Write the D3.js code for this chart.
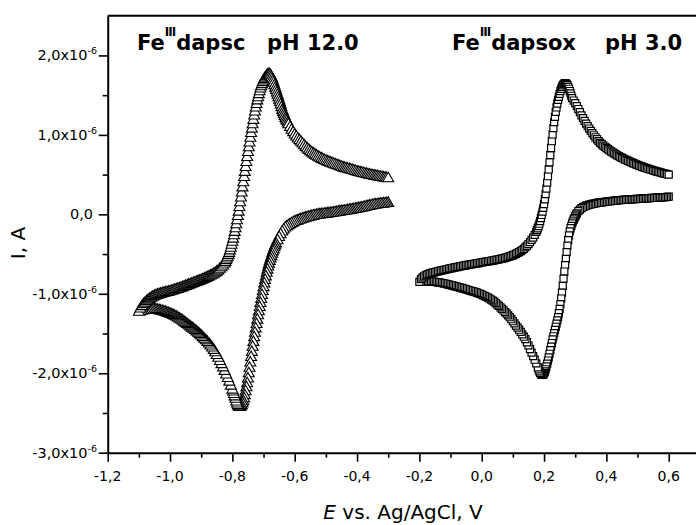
<!DOCTYPE html>
<html>
<head>
<meta charset="utf-8">
<script src="https://cdn.jsdelivr.net/npm/d3@7"></script>
<style>
  html, body { margin: 0; padding: 0; background: #fff; }
  svg { display: block; }
  text { font-family: "DejaVu Sans", Lato, sans-serif; fill: #000; }
</style>
</head>
<body>
<svg id="chart" width="696" height="525"></svg>
<script>
// Cyclic voltammograms: potential E (V vs. Ag/AgCl), current I (µA).
// Each scan starts on the cathodic branch and returns on the anodic branch.

// Fe(III)dapsc, pH 12.0 — cathodic sweep from -0.30 V to the switching potential
const dapscCathodic = [
[-0.300,0.160],[-0.305,0.158],[-0.310,0.155],[-0.315,0.153],[-0.320,0.150],[-0.325,0.148],[-0.330,0.145],[-0.335,0.143],[-0.340,0.140],[-0.345,0.137],[-0.350,0.133],[-0.355,0.129],[-0.360,0.125],[-0.365,0.120],[-0.370,0.115],[-0.375,0.110],[-0.380,0.105],[-0.385,0.101],[-0.390,0.097],[-0.395,0.094],[-0.400,0.090],[-0.405,0.086],[-0.410,0.082],[-0.415,0.078],[-0.420,0.075],[-0.425,0.072],[-0.430,0.068],[-0.435,0.064],[-0.440,0.060],[-0.445,0.058],[-0.450,0.055],[-0.455,0.053],[-0.460,0.050],[-0.465,0.046],[-0.470,0.042],[-0.475,0.038],[-0.480,0.035],[-0.485,0.033],[-0.490,0.030],[-0.495,0.028],[-0.500,0.025],[-0.505,0.023],[-0.510,0.020],[-0.515,0.018],[-0.520,0.015],[-0.525,0.012],[-0.530,0.008],[-0.535,0.004],[-0.540,0.000],[-0.545,-0.005],[-0.550,-0.010],[-0.555,-0.015],[-0.560,-0.020],[-0.565,-0.026],[-0.570,-0.032],[-0.575,-0.038],[-0.580,-0.045],[-0.585,-0.052],[-0.590,-0.060],[-0.595,-0.067],
[-0.600,-0.075],[-0.605,-0.085],[-0.610,-0.097],[-0.615,-0.108],[-0.620,-0.120],[-0.625,-0.135],[-0.630,-0.150],[-0.635,-0.175],[-0.640,-0.200],[-0.645,-0.235],[-0.650,-0.270],[-0.655,-0.310],[-0.660,-0.350],
[-0.6625,-0.375],[-0.665,-0.400],[-0.6675,-0.425],[-0.670,-0.450],[-0.6725,-0.480],[-0.675,-0.510],[-0.6775,-0.540],[-0.680,-0.570],[-0.6825,-0.605],[-0.685,-0.640],[-0.6875,-0.680],[-0.690,-0.720],[-0.6925,-0.765],[-0.695,-0.810],[-0.6975,-0.855],[-0.700,-0.900],[-0.7025,-0.950],[-0.705,-1.000],[-0.7075,-1.050],[-0.710,-1.100],[-0.7125,-1.150],[-0.715,-1.205],[-0.7175,-1.255],[-0.720,-1.310],[-0.7225,-1.365],[-0.725,-1.420],[-0.7275,-1.475],[-0.730,-1.530],[-0.7325,-1.590],[-0.735,-1.650],[-0.7375,-1.715],[-0.740,-1.780],[-0.7425,-1.850],[-0.745,-1.915],[-0.7475,-1.985],[-0.750,-2.050],[-0.7525,-2.110],[-0.755,-2.160],[-0.7575,-2.210],[-0.760,-2.260],[-0.7625,-2.300],[-0.765,-2.335],[-0.7675,-2.360],[-0.770,-2.385],[-0.7725,-2.400],[-0.775,-2.410],[-0.7775,-2.410],[-0.780,-2.400],[-0.7825,-2.385],[-0.785,-2.365],[-0.7875,-2.340],[-0.790,-2.305],[-0.7925,-2.275],[-0.795,-2.245],[-0.7975,-2.215],[-0.800,-2.190],
[-0.805,-2.140],[-0.810,-2.090],[-0.815,-2.045],[-0.820,-2.000],[-0.825,-1.955],[-0.830,-1.910],[-0.835,-1.870],[-0.840,-1.830],[-0.845,-1.790],[-0.850,-1.755],[-0.855,-1.720],[-0.860,-1.690],[-0.865,-1.660],[-0.870,-1.635],[-0.875,-1.610],[-0.880,-1.590],[-0.885,-1.570],[-0.890,-1.550],[-0.895,-1.530],[-0.900,-1.510],
[-0.905,-1.492],[-0.910,-1.475],[-0.915,-1.457],[-0.920,-1.440],[-0.925,-1.425],[-0.930,-1.410],[-0.935,-1.395],[-0.940,-1.380],[-0.945,-1.365],[-0.950,-1.350],[-0.955,-1.335],[-0.960,-1.320],[-0.965,-1.307],[-0.970,-1.295],[-0.975,-1.282],[-0.980,-1.270],[-0.985,-1.260],[-0.990,-1.250],[-0.995,-1.242],[-1.000,-1.235],[-1.005,-1.227],[-1.010,-1.220],[-1.015,-1.212],[-1.020,-1.205],[-1.025,-1.200],[-1.030,-1.195],[-1.035,-1.190],[-1.040,-1.185],[-1.045,-1.181],[-1.050,-1.178],[-1.055,-1.176],[-1.060,-1.175],[-1.065,-1.176],[-1.070,-1.178],[-1.075,-1.181],[-1.080,-1.185],[-1.085,-1.190],[-1.090,-1.195],[-1.095,-1.202],[-1.100,-1.210]
];

// Fe(III)dapsc, pH 12.0 — return (anodic) sweep back to -0.30 V
const dapscAnodic = [
[-1.095,-1.170],[-1.090,-1.140],[-1.085,-1.115],[-1.080,-1.095],[-1.075,-1.075],[-1.070,-1.060],[-1.065,-1.045],[-1.060,-1.032],[-1.055,-1.020],[-1.050,-1.010],
[-1.045,-1.002],[-1.040,-0.995],[-1.035,-0.988],[-1.030,-0.982],[-1.025,-0.977],[-1.020,-0.972],[-1.015,-0.967],[-1.010,-0.962],[-1.005,-0.957],[-1.000,-0.952],[-0.995,-0.946],[-0.990,-0.940],[-0.985,-0.934],[-0.980,-0.928],[-0.975,-0.922],[-0.970,-0.915],[-0.965,-0.908],[-0.960,-0.900],[-0.955,-0.893],[-0.950,-0.885],[-0.945,-0.878],[-0.940,-0.870],[-0.935,-0.863],[-0.930,-0.855],[-0.925,-0.848],[-0.920,-0.840],[-0.915,-0.833],[-0.910,-0.825],[-0.905,-0.818],[-0.900,-0.810],[-0.895,-0.802],[-0.890,-0.793],[-0.885,-0.784],[-0.880,-0.775],[-0.875,-0.765],[-0.870,-0.755],[-0.865,-0.745],[-0.860,-0.733],[-0.855,-0.720],[-0.850,-0.705],
[-0.845,-0.690],[-0.840,-0.670],[-0.835,-0.650],[-0.830,-0.628],[-0.825,-0.603],
[-0.8225,-0.585],[-0.820,-0.560],[-0.8175,-0.540],[-0.815,-0.518],[-0.8125,-0.495],[-0.810,-0.470],[-0.8075,-0.438],[-0.805,-0.405],[-0.8025,-0.368],[-0.800,-0.330],[-0.7975,-0.290],[-0.795,-0.248],[-0.7925,-0.205],[-0.790,-0.160],[-0.7875,-0.110],[-0.785,-0.058],[-0.7825,-0.005],[-0.780,0.050],[-0.7775,0.108],[-0.775,0.168],[-0.7725,0.228],[-0.770,0.290],[-0.7675,0.355],[-0.765,0.420],[-0.7625,0.485],[-0.760,0.550],[-0.7575,0.612],[-0.755,0.675],[-0.7525,0.738],[-0.750,0.800],[-0.7475,0.860],[-0.745,0.920],[-0.7425,0.980],[-0.740,1.040],[-0.7375,1.095],[-0.735,1.150],[-0.7325,1.205],[-0.730,1.260],[-0.7275,1.310],[-0.725,1.360],[-0.7225,1.405],[-0.720,1.450],[-0.7175,1.490],[-0.715,1.528],[-0.7125,1.565],[-0.710,1.600],[-0.7075,1.628],[-0.705,1.655],[-0.7025,1.680],[-0.700,1.700],[-0.6975,1.718],[-0.695,1.735],[-0.6925,1.750],[-0.690,1.762],[-0.6875,1.772],[-0.685,1.780],[-0.6825,1.782],[-0.680,1.778],[-0.6775,1.765],[-0.675,1.745],[-0.6725,1.722],[-0.670,1.698],[-0.6675,1.672],[-0.665,1.640],[-0.6625,1.610],[-0.660,1.580],[-0.6575,1.550],[-0.655,1.520],[-0.6525,1.490],[-0.650,1.460],[-0.6475,1.430],[-0.645,1.400],[-0.6425,1.365],[-0.640,1.330],[-0.6375,1.305],[-0.635,1.280],[-0.6325,1.255],[-0.630,1.230],[-0.6275,1.210],[-0.625,1.190],[-0.6225,1.170],[-0.620,1.150],
[-0.615,1.115],[-0.610,1.080],[-0.605,1.050],[-0.600,1.020],[-0.595,0.995],[-0.590,0.970],[-0.585,0.950],[-0.580,0.930],[-0.575,0.907],[-0.570,0.885],[-0.565,0.865],[-0.560,0.845],[-0.555,0.827],[-0.550,0.810],
[-0.545,0.795],[-0.540,0.780],[-0.535,0.767],[-0.530,0.755],[-0.525,0.742],[-0.520,0.730],[-0.515,0.720],[-0.510,0.710],[-0.505,0.700],[-0.500,0.690],[-0.495,0.682],[-0.490,0.675],[-0.485,0.667],[-0.480,0.660],[-0.475,0.652],[-0.470,0.645],[-0.465,0.637],[-0.460,0.630],[-0.455,0.622],[-0.450,0.615],[-0.445,0.607],[-0.440,0.600],[-0.435,0.595],[-0.430,0.590],[-0.425,0.585],[-0.420,0.580],[-0.415,0.573],[-0.410,0.567],[-0.405,0.561],[-0.400,0.555],[-0.395,0.550],[-0.390,0.545],[-0.385,0.540],[-0.380,0.535],[-0.375,0.530],[-0.370,0.525],[-0.365,0.520],[-0.360,0.515],[-0.355,0.511],[-0.350,0.507],[-0.345,0.503],[-0.340,0.500],[-0.335,0.496],[-0.330,0.492],[-0.325,0.488],[-0.320,0.485],[-0.315,0.481],[-0.310,0.477],[-0.305,0.473],[-0.300,0.470]
];

// Fe(III)dapsox, pH 3.0 — cathodic sweep from 0.60 V to the switching potential
const dapsoxCathodic = [
[0.600,0.222],[0.595,0.220],[0.590,0.218],[0.585,0.216],[0.580,0.215],[0.575,0.213],[0.570,0.212],[0.565,0.211],[0.560,0.210],[0.555,0.208],[0.550,0.207],[0.545,0.206],[0.540,0.205],[0.535,0.203],[0.530,0.202],[0.525,0.201],[0.520,0.200],[0.515,0.199],[0.510,0.198],[0.505,0.196],[0.500,0.195],[0.495,0.193],[0.490,0.192],[0.485,0.191],[0.480,0.190],[0.475,0.188],[0.470,0.187],[0.465,0.186],[0.460,0.185],[0.455,0.183],[0.450,0.182],[0.445,0.180],[0.440,0.178],[0.435,0.176],[0.430,0.174],[0.425,0.172],[0.420,0.170],[0.415,0.167],[0.410,0.165],[0.405,0.162],[0.400,0.160],[0.395,0.157],[0.390,0.155],[0.385,0.152],[0.380,0.150],[0.375,0.147],[0.370,0.143],[0.365,0.139],[0.360,0.135],[0.355,0.131],[0.350,0.126],[0.345,0.121],[0.340,0.115],[0.335,0.108],[0.330,0.100],
[0.325,0.090],[0.320,0.077],[0.315,0.060],[0.310,0.040],[0.305,0.012],
[0.3025,-0.005],[0.300,-0.025],[0.2975,-0.045],[0.295,-0.065],[0.2925,-0.090],[0.290,-0.115],[0.2875,-0.145],[0.285,-0.175],[0.2825,-0.215],[0.280,-0.265],[0.2775,-0.325],[0.275,-0.395],[0.2725,-0.475],[0.270,-0.560],[0.2675,-0.640],[0.265,-0.720],[0.2625,-0.810],[0.260,-0.900],[0.2575,-0.985],[0.255,-1.060],[0.2525,-1.130],[0.250,-1.190],[0.2475,-1.245],[0.245,-1.295],[0.2425,-1.335],[0.240,-1.375],[0.2375,-1.415],[0.235,-1.455],[0.2325,-1.495],[0.230,-1.535],[0.2275,-1.575],[0.225,-1.620],[0.2225,-1.665],[0.220,-1.710],[0.2175,-1.755],[0.215,-1.800],[0.2125,-1.840],[0.210,-1.880],[0.2075,-1.915],[0.205,-1.950],[0.2025,-1.978],[0.200,-2.000],[0.1975,-2.013],[0.195,-2.020],[0.1925,-2.020],[0.190,-2.010],[0.1875,-1.995],[0.185,-1.975],[0.1825,-1.950],[0.180,-1.925],
[0.175,-1.875],[0.170,-1.830],[0.165,-1.785],[0.160,-1.740],[0.155,-1.695],[0.150,-1.650],[0.145,-1.610],[0.140,-1.570],[0.135,-1.540],[0.130,-1.510],[0.125,-1.480],[0.120,-1.452],
[0.115,-1.426],[0.110,-1.400],[0.105,-1.372],[0.100,-1.345],[0.095,-1.320],[0.090,-1.295],[0.085,-1.272],[0.080,-1.250],[0.075,-1.230],[0.070,-1.210],[0.065,-1.190],[0.060,-1.170],[0.055,-1.152],[0.050,-1.135],[0.045,-1.117],[0.040,-1.100],[0.035,-1.086],[0.030,-1.072],[0.025,-1.060],[0.020,-1.048],[0.015,-1.038],[0.010,-1.028],[0.005,-1.019],[0.000,-1.010],[-0.005,-1.002],[-0.010,-0.995],[-0.015,-0.987],[-0.020,-0.980],[-0.025,-0.974],[-0.030,-0.968],[-0.035,-0.962],[-0.040,-0.957],[-0.045,-0.951],[-0.050,-0.945],[-0.055,-0.939],[-0.060,-0.933],[-0.065,-0.927],[-0.070,-0.922],[-0.075,-0.916],[-0.080,-0.911],[-0.085,-0.905],[-0.090,-0.900],[-0.095,-0.895],[-0.100,-0.890],[-0.105,-0.885],[-0.110,-0.880],[-0.115,-0.875],[-0.120,-0.871],[-0.125,-0.867],[-0.130,-0.863],[-0.135,-0.859],[-0.140,-0.856],[-0.145,-0.853],[-0.150,-0.850],[-0.155,-0.848],[-0.160,-0.846],[-0.165,-0.844],[-0.170,-0.843],[-0.175,-0.842],[-0.180,-0.842],[-0.185,-0.843],[-0.190,-0.845],[-0.195,-0.847],[-0.200,-0.850]
];

// Fe(III)dapsox, pH 3.0 — return (anodic) sweep back to 0.60 V
const dapsoxAnodic = [
[-0.195,-0.815],[-0.190,-0.795],[-0.185,-0.780],[-0.180,-0.768],[-0.175,-0.758],[-0.170,-0.750],
[-0.165,-0.744],[-0.160,-0.738],[-0.155,-0.732],[-0.150,-0.727],[-0.145,-0.722],[-0.140,-0.717],[-0.135,-0.712],[-0.130,-0.707],[-0.125,-0.702],[-0.120,-0.698],[-0.115,-0.693],[-0.110,-0.689],[-0.105,-0.684],[-0.100,-0.680],[-0.095,-0.676],[-0.090,-0.672],[-0.085,-0.668],[-0.080,-0.664],[-0.075,-0.660],[-0.070,-0.656],[-0.065,-0.652],[-0.060,-0.648],[-0.055,-0.644],[-0.050,-0.641],[-0.045,-0.637],[-0.040,-0.634],[-0.035,-0.630],[-0.030,-0.627],[-0.025,-0.623],[-0.020,-0.620],[-0.015,-0.616],[-0.010,-0.613],[-0.005,-0.609],[0.000,-0.606],[0.005,-0.602],[0.010,-0.599],[0.015,-0.595],[0.020,-0.592],[0.025,-0.588],[0.030,-0.585],[0.035,-0.581],[0.040,-0.578],[0.045,-0.574],[0.050,-0.570],[0.055,-0.566],[0.060,-0.562],[0.065,-0.558],[0.070,-0.553],[0.075,-0.548],[0.080,-0.542],[0.085,-0.536],[0.090,-0.530],[0.095,-0.523],[0.100,-0.515],[0.105,-0.506],[0.110,-0.497],[0.115,-0.486],[0.120,-0.475],[0.125,-0.463],[0.130,-0.450],
[0.135,-0.434],[0.140,-0.416],[0.145,-0.396],[0.150,-0.374],[0.155,-0.350],[0.160,-0.322],[0.165,-0.292],[0.170,-0.258],[0.175,-0.220],
[0.1775,-0.198],[0.180,-0.175],[0.1825,-0.148],[0.185,-0.118],[0.1875,-0.085],[0.190,-0.048],[0.1925,-0.008],[0.195,0.035],[0.1975,0.082],[0.200,0.130],[0.2025,0.190],[0.205,0.255],[0.2075,0.325],[0.210,0.400],[0.2125,0.480],[0.215,0.565],[0.2175,0.655],[0.220,0.745],[0.2225,0.835],[0.225,0.920],[0.2275,1.005],[0.230,1.085],[0.2325,1.160],[0.235,1.228],[0.2375,1.290],[0.240,1.345],[0.2425,1.395],[0.245,1.440],[0.2475,1.480],[0.250,1.517],[0.2525,1.550],[0.255,1.580],[0.2575,1.603],[0.260,1.622],[0.2625,1.636],[0.265,1.645],[0.2675,1.650],[0.270,1.648],[0.2725,1.640],[0.275,1.625],[0.2775,1.605],[0.280,1.580],[0.2825,1.552],[0.285,1.522],[0.2875,1.492],[0.290,1.462],
[0.295,1.432],[0.300,1.400],[0.305,1.362],[0.310,1.325],[0.315,1.285],[0.320,1.245],[0.325,1.210],[0.330,1.175],[0.335,1.142],[0.340,1.110],[0.345,1.080],[0.350,1.050],
[0.355,1.022],[0.360,0.995],[0.365,0.970],[0.370,0.945],[0.375,0.922],[0.380,0.900],[0.385,0.882],[0.390,0.865],[0.395,0.850],[0.400,0.835],[0.405,0.820],[0.410,0.805],[0.415,0.792],[0.420,0.780],[0.425,0.767],[0.430,0.755],[0.435,0.743],[0.440,0.732],[0.445,0.721],[0.450,0.710],[0.455,0.700],[0.460,0.690],[0.465,0.681],[0.470,0.672],[0.475,0.663],[0.480,0.655],[0.485,0.646],[0.490,0.638],[0.495,0.630],[0.500,0.622],[0.505,0.614],[0.510,0.607],[0.515,0.599],[0.520,0.592],[0.525,0.585],[0.530,0.578],[0.535,0.571],[0.540,0.565],[0.545,0.559],[0.550,0.553],[0.555,0.547],[0.560,0.542],[0.565,0.536],[0.570,0.531],[0.575,0.525],[0.580,0.520],[0.585,0.515],[0.590,0.510],[0.595,0.505],[0.600,0.500]
];

// Axis ticks and their labels
const xMajorTicks = [-1.2, -1.0, -0.8, -0.6, -0.4, -0.2, 0.0, 0.2, 0.4, 0.6];
const xTickLabels = ["-1,2", "-1,0", "-0,8", "-0,6", "-0,4", "-0,2", "0,0", "0,2", "0,4", "0,6"];
const xMinorTicks = [-1.1, -0.9, -0.7, -0.5, -0.3, -0.1, 0.1, 0.3, 0.5];
const yMajorTicks = [-3, -2, -1, 0, 1, 2];
const yTickLabels = ["-3,0x10", "-2,0x10", "-1,0x10", "0,0", "1,0x10", "2,0x10"];
const yTickExponent = "-6";
const yMinorTicks = [-2.5, -1.5, -0.5, 0.5, 1.5];

const svg = d3.select("#chart");
const plotLeft = 107.7, plotRight = 699.9, plotTop = 15.7, plotBottom = 452.7;

const x = d3.scaleLinear().domain([-1.2, 0.7]).range([plotLeft, plotRight]);
const y = d3.scaleLinear().domain([-3, 2.5]).range([plotBottom, plotTop]);

// Open triangle centred on its bounding box
const triangleBox = {
  draw(ctx, size) {
    const s = Math.sqrt(size * 4 / Math.sqrt(3));
    const h = s * Math.sqrt(3) / 2;
    ctx.moveTo(0, -h / 2);
    ctx.lineTo(s / 2, h / 2);
    ctx.lineTo(-s / 2, h / 2);
    ctx.closePath();
  }
};
const triPath = d3.symbol().type(triangleBox).size(52)();
const sqPath = d3.symbol().type(d3.symbolSquare).size(50)();

function drawScan(points, path, strokeWidth) {
  svg.append("g")
    .selectAll("path")
    .data(points)
    .join("path")
    .attr("d", path)
    .attr("transform", d => `translate(${x(d[0])},${y(d[1])})`)
    .attr("fill", "#fff")
    .attr("stroke", "#000")
    .attr("stroke-width", strokeWidth);
}

drawScan(dapscCathodic.concat(dapscAnodic), triPath, 1.1);
drawScan(dapsoxCathodic.concat(dapsoxAnodic), sqPath, 1.2);

// Frame: top edge
svg.append("line")
  .attr("x1", plotLeft).attr("x2", plotRight)
  .attr("y1", plotTop).attr("y2", plotTop)
  .attr("stroke", "#000").attr("stroke-width", 2);

// Bottom axis
const xAxis = svg.append("g").attr("transform", `translate(0,${plotBottom})`);
xAxis.call(d3.axisBottom(x).tickValues(xMajorTicks).tickSize(9).tickSizeOuter(0).tickFormat(""));
xAxis.append("g").call(d3.axisBottom(x).tickValues(xMinorTicks).tickSize(5).tickSizeOuter(0).tickFormat(""))
  .select(".domain").remove();
xAxis.selectAll(".domain").attr("stroke-width", 2);
xAxis.selectAll(".tick line").attr("stroke-width", 1.6);

svg.append("g").selectAll("text")
  .data(xMajorTicks)
  .join("text")
  .attr("x", d => x(d))
  .attr("y", 481)
  .attr("text-anchor", "middle")
  .attr("font-size", 14)
  .text((d, i) => xTickLabels[i]);

// Left axis
const yAxis = svg.append("g").attr("transform", `translate(${plotLeft},0)`);
yAxis.call(d3.axisLeft(y).tickValues(yMajorTicks).tickSize(9).tickSizeOuter(0).tickFormat(""));
yAxis.append("g").call(d3.axisLeft(y).tickValues(yMinorTicks).tickSize(5).tickSizeOuter(0).tickFormat(""))
  .select(".domain").remove();
yAxis.selectAll(".domain").attr("stroke-width", 2);
yAxis.selectAll(".tick line").attr("stroke-width", 1.6);

const yLab = svg.append("g").selectAll("text")
  .data(yMajorTicks)
  .join("text")
  .attr("x", d => d === 0 ? 93 : 97)
  .attr("y", d => y(d) + 5)
  .attr("text-anchor", "end")
  .attr("font-size", 14.5);
yLab.append("tspan").text((d, i) => yTickLabels[i]);
yLab.filter(d => d !== 0).append("tspan")
  .attr("dy", -6).attr("font-size", 9.5).text(yTickExponent);

// Axis titles
const xTitle = svg.append("text")
  .attr("x", 403).attr("y", 519)
  .attr("text-anchor", "middle")
  .attr("font-size", 20);
xTitle.append("tspan").attr("font-style", "italic").text("E");
xTitle.append("tspan").text(" vs. Ag/AgCl, V");

svg.append("text")
  .attr("transform", "translate(25,243) rotate(-90)")
  .attr("text-anchor", "middle")
  .attr("font-size", 20)
  .text("I, A");

// Panel headings
function heading(x0, name, x1, ph) {
  const t = svg.append("text")
    .attr("x", x0).attr("y", 50)
    .attr("font-size", 21).attr("font-weight", 700);
  t.append("tspan").text("Fe");
  t.append("tspan").attr("dy", -14).attr("font-size", 12).attr("letter-spacing", -1).text("III");
  t.append("tspan").attr("dy", 14).attr("dx", 1).text(name);
  svg.append("text")
    .attr("x", x1).attr("y", 50)
    .attr("font-size", 21).attr("font-weight", 700)
    .text(ph);
}
heading(137, "dapsc", 267, "pH 12.0");
heading(452, "dapsox", 605, "pH 3.0");
</script>
</body>
</html>
